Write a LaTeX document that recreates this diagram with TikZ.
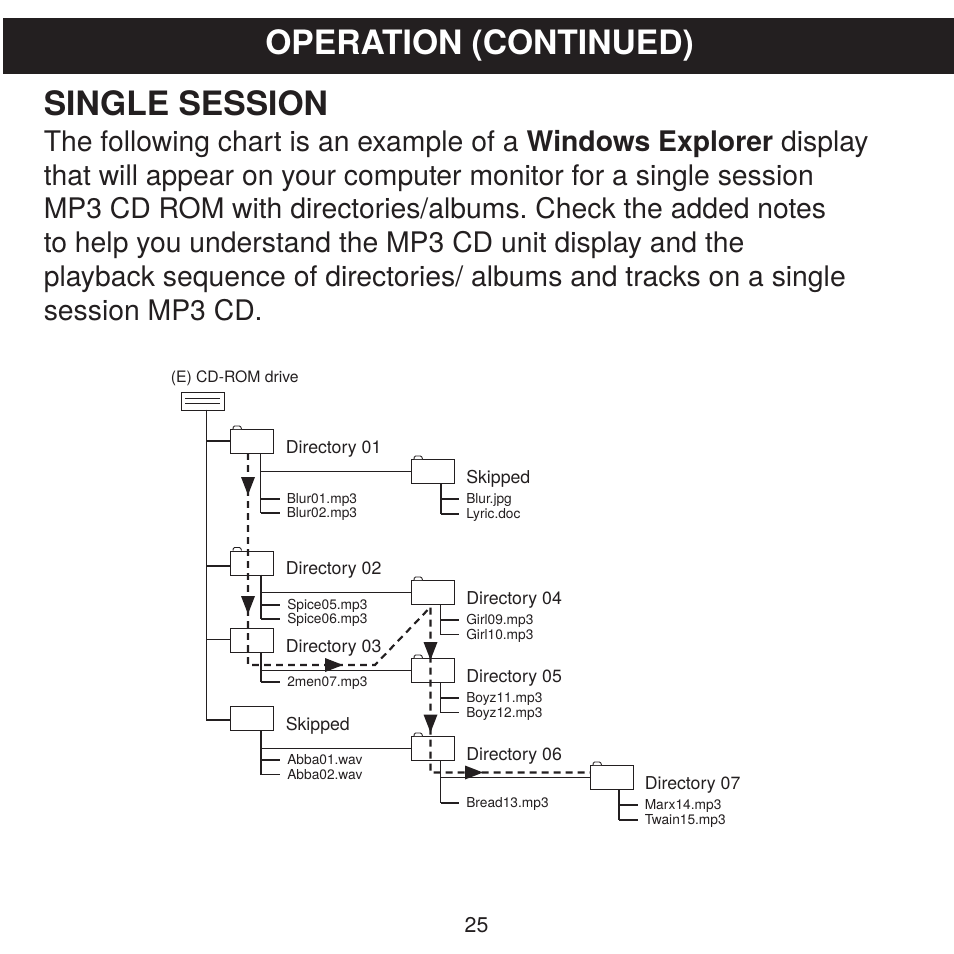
\documentclass[tikz,border=0pt]{standalone}
\usepackage{fontspec}
\setmainfont{TeX Gyre Heros}
\usetikzlibrary{calc}
\tikzset{
  px/.style={x=0.75pt,y=-0.75pt},
  thin line/.style={line width=0.8pt,draw=ink},
  thick line/.style={line width=1.5pt,draw=ink},
  folder/.style={draw=ink,line width=0.8pt,fill=white,anchor=north west,inner sep=0pt,minimum width=32pt,minimum height=18pt},
  driveb/.style={draw=ink,line width=0.8pt,fill=white,anchor=north west,inner sep=0pt,minimum width=32.4pt,minimum height=13.5pt},
  dirlabel/.style={anchor=base west,inner sep=0pt,font=\fontsize{13.3}{15}\selectfont,text=ink},
  leaf/.style={anchor=west,inner sep=0pt,text height=7.4pt,text depth=0pt,font=\fontsize{10.3}{12}\selectfont,text=ink},
  bodyline/.style={anchor=base west,inner sep=0pt,font=\frenchspacing\fontsize{21.25}{25}\selectfont,text=ink},
  flow/.style={line width=1.6pt,draw=ink,dash pattern=on 5.2pt off 3.8pt},
  head/.style={fill=ink,draw=none},
  stub/.style={shorten >=5pt}
}
\definecolor{ink}{HTML}{231F20}
\newcommand{\foldertab}[1]{\draw[ink,line width=0.7pt,fill=white,rounded corners=0.8pt] ($(#1.north west)+(3,0)$) -- ++(0.5,-3) -- ++(7,0) -- ++(1,3);}
\begin{document}
\begin{tikzpicture}[px]
\useasboundingbox (0,0) rectangle (954,954);
\fill[white] (0,0) rectangle (954,954);
\node[fill=ink,anchor=north west,inner sep=0pt,minimum width=713.25pt,minimum height=42pt] (banner) at (3,18) {};
\node[anchor=base,inner sep=0pt,text=white,font=\bfseries\fontsize{25.2}{30}\selectfont] (title) at (479.5,54.5) {OPERATION (CONTINUED)};
\node[anchor=base west,inner sep=0pt,text=ink,font=\bfseries\fontsize{25.2}{30}\selectfont] (heading) at (43.5,115.5) {SINGLE SESSION};
\node[bodyline] (l1) at (43.5,151.5) {The following chart is an example of a \textbf{Windows Explorer} display};
\node[bodyline] (l2) at (43.5,185.5) {that will appear on your computer monitor for a single session};
\node[bodyline] (l3) at (43.5,218.5) {MP3 CD ROM with directories/albums. Check the added notes};
\node[bodyline] (l4) at (43.5,252.5) {to help you understand the MP3 CD unit display and the};
\node[bodyline] (l5) at (43.5,286.5) {playback sequence of directories/ albums and tracks on a single};
\node[bodyline] (l6) at (43.5,320.5) {session MP3 CD.};
\node[anchor=base,inner sep=0pt,text=ink,font=\fontsize{16}{19}\selectfont] (page) at (476.5,932) {25};

% boxes
\node[anchor=base west,inner sep=0pt,text=ink,font=\fontsize{11.8}{14}\selectfont] (drivelabel) at (170.5,382) {(E) CD-ROM drive};
\node[driveb] (drive) at (181,391.5) {};
\node[folder] (d1) at (230,429) {};
\node[folder] (d2) at (230,550.5) {};
\node[folder] (d3) at (230,628) {};
\node[folder] (sk1) at (230,706) {};
\node[folder] (sk2) at (411,459) {};
\node[folder] (d4) at (411,580) {};
\node[folder] (d5) at (411,658) {};
\node[folder] (d6) at (411,736) {};
\node[folder] (d7) at (590,765) {};
\foreach \n in {d1,d2,sk2,d4,d5,d6,d7} {\foldertab{\n}}
\draw[ink,line width=0.6pt] ($(drive.north west)+(4,6.5)$) -- ($(drive.north east)+(-5,6.5)$);
\draw[ink,line width=0.6pt] ($(drive.north west)+(4,11.5)$) -- ($(drive.north east)+(-5,11.5)$);

% directory labels
\node[dirlabel] (t1) at (285.5,453) {Directory 01};
\node[dirlabel] (t2) at (285.5,574) {Directory 02};
\node[dirlabel] (t3) at (285.5,652) {Directory 03};
\node[dirlabel] (t4) at (285.5,730) {Skipped};
\node[dirlabel] (t5) at (466,483) {Skipped};
\node[dirlabel] (t6) at (466,604) {Directory 04};
\node[dirlabel] (t7) at (466,682) {Directory 05};
\node[dirlabel] (t8) at (466,760) {Directory 06};
\node[dirlabel] (t9) at (644.5,789) {Directory 07};

% leaves
\node[leaf] (blur1) at (286.5,499) {Blur01.mp3};
\node[leaf] (blur2) at (286.5,513) {Blur02.mp3};
\node[leaf] (bjpg) at (466,499) {Blur.jpg};
\node[leaf] (lyric) at (466,514) {Lyric.doc};
\node[leaf] (sp5) at (287,604.5) {Spice05.mp3};
\node[leaf] (sp6) at (287,619) {Spice06.mp3};
\node[leaf] (men) at (287,682) {2men07.mp3};
\node[leaf] (ab1) at (287,760) {Abba01.wav};
\node[leaf] (ab2) at (287,774.5) {Abba02.wav};
\node[leaf] (g9) at (466,620) {Girl09.mp3};
\node[leaf] (g10) at (466,634.5) {Girl10.mp3};
\node[leaf] (bz1) at (466,698) {Boyz11.mp3};
\node[leaf] (bz2) at (466,712.5) {Boyz12.mp3};
\node[leaf] (br) at (466,803) {Bread13.mp3};
\node[leaf] (mx) at (644.5,804.5) {Marx14.mp3};
\node[leaf] (tw) at (644.5,819.5) {Twain15.mp3};

% tree lines
\coordinate (trunk) at (206.5,409.5);
\coordinate (trunkend) at (206.5,720);
\coordinate (b1) at (206.5,441);
\coordinate (b2) at (206.5,566);
\coordinate (b3) at (206.5,639.5);
\draw[thin line] (trunk) -- (trunkend) -- (trunkend -| sk1.west);
\draw[thin line] (b1) -- (b1 -| d1.west);
\draw[thick line] (b2) -- (b2 -| d2.west);
\draw[thin line] (b3) -- (b3 -| d3.west);

\coordinate (s1) at (260.5,453);
\coordinate (s2) at (261,574.5);
\coordinate (s3) at (261,652);
\coordinate (s4) at (261,730);
\coordinate (s5) at (441,483);
\coordinate (s6) at (440.5,604);
\coordinate (s7) at (440.5,682);
\coordinate (s8) at (440.5,760);
\coordinate (s9) at (619,789);
\coordinate (j1) at (260.5,471.5);
\coordinate (j2) at (261,592.5);
\coordinate (j3) at (261,670.5);
\coordinate (j4) at (261,748.5);
\coordinate (j8) at (440.5,777.5);

\draw[thin line] (j1) -- (j1 -| sk2.west);
\draw[thin line] (j2) -- (j2 -| d4.west);
\draw[thin line] (j3) -- (j3 -| d5.west);
\draw[thin line] (j4) -- (j4 -| d6.west);
\draw[thin line] (j8) -- (j8 -| d7.west);
\draw[thin line] (s1) -- (s1 |- blur2.west);
\draw[thin line] (s5) -- (s5 |- lyric.west);
\draw[thick line] (s2) -- (s2 |- sp5.west);
\draw[thin line] (s2 |- sp5.west) -- (s2 |- sp6.west);
\draw[thick line] (s3) -- (s3 |- men.west);
\draw[thick line] (s4) -- (s4 |- ab2.west);
\draw[thin line] (s6) -- (s6 |- g10.west);
\draw[thin line] (s7) -- (s7 |- bz2.west);
\draw[thin line] (s8) -- (s8 |- br.west);
\draw[thick line] (s9) -- (s9 |- tw.west);
\draw[thin line,stub] (s1 |- blur1.west) -- (blur1.west);
\draw[thin line,stub] (s1 |- blur2.west) -- (blur2.west);
\draw[thin line,stub] (s5 |- bjpg.west) -- (bjpg.west);
\draw[thin line,stub] (s5 |- lyric.west) -- (lyric.west);
\draw[thick line,stub] (s2 |- sp5.west) -- (sp5.west);
\draw[thin line,stub] (s2 |- sp6.west) -- (sp6.west);
\draw[thick line,stub] (s3 |- men.west) -- (men.west);
\draw[thin line,stub] (s4 |- ab1.west) -- (ab1.west);
\draw[thin line,stub] (s4 |- ab2.west) -- (ab2.west);
\draw[thin line,stub] (s6 |- g9.west) -- (g9.west);
\draw[thin line,stub] (s6 |- g10.west) -- (g10.west);
\draw[thin line,stub] (s7 |- bz1.west) -- (bz1.west);
\draw[thin line,stub] (s7 |- bz2.west) -- (bz2.west);
\draw[thin line,stub] (s8 |- br.west) -- (br.west);
\draw[thick line,stub] (s9 |- mx.west) -- (mx.west);
\draw[thick line,stub] (s9 |- tw.west) -- (tw.west);

% playback route
\coordinate (f0) at (248,453);
\coordinate (f1) at (248,665);
\coordinate (f2) at (375,665);
\coordinate (f3) at (430.5,607);
\coordinate (f4) at (430.5,772.5);
\draw[flow] (f0) -- (f1) -- (f2) -- (f3) -- (f4) -- (f4 -| d7.west);
\fill[head] (241,477) -- (255,477) -- (248,495) -- cycle;
\fill[head] (241,596) -- (255,596) -- (248,614) -- cycle;
\fill[head] (325,658) -- (325,672) -- (343,665) -- cycle;
\fill[head] (423.5,642) -- (437.5,642) -- (430.5,660) -- cycle;
\fill[head] (423.5,714.5) -- (437.5,714.5) -- (430.5,732.5) -- cycle;
\fill[head] (465,765.5) -- (465,779.5) -- (483,772.5) -- cycle;
\end{tikzpicture}
\end{document}
